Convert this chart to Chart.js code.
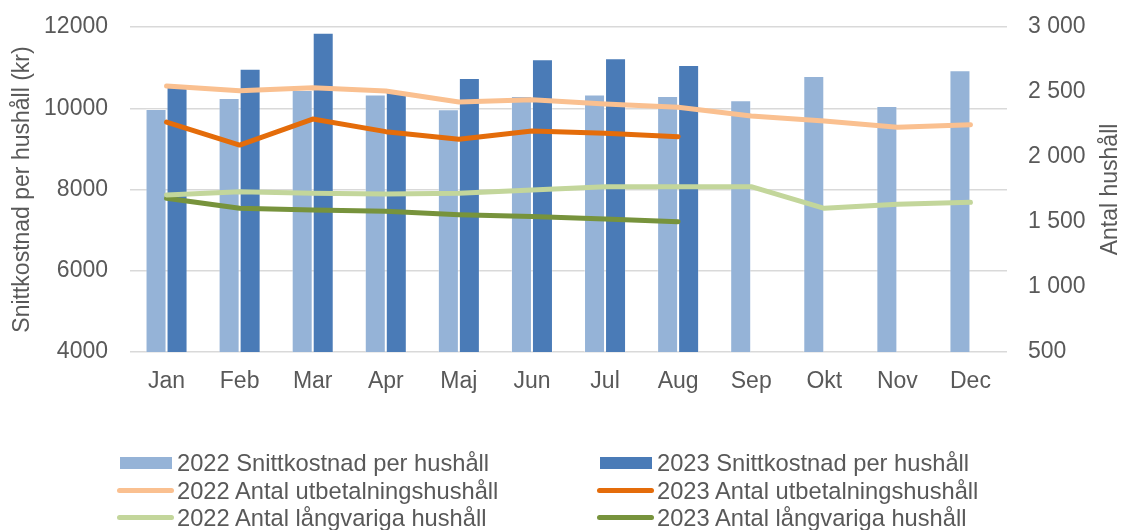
<!DOCTYPE html>
<html>
<head>
<meta charset="utf-8">
<script src="https://cdn.jsdelivr.net/npm/chart.js@4.4.1/dist/chart.umd.min.js"></script>
<style>
  html, body { margin: 0; padding: 0; background: #ffffff; }
  #wrap { position: relative; width: 1121px; height: 530px; }
  #c { position: absolute; left: 0; top: 0; }
  #legend { position: absolute; left: 0; top: 0; width: 1121px; height: 530px; pointer-events: none;
    font-family: "Liberation Sans", Arial, sans-serif; font-size: 23.7px; color: #595959; }
  .item { position: absolute; height: 28px; display: flex; align-items: center; white-space: nowrap; }
  .sw { position: relative; width: 57px; height: 28px; margin-right: 3px; }
  .sw .box { position: absolute; left: 3px; top: 8px; width: 52px; height: 12px; }
  .sw .ln { position: absolute; left: 0; top: 11px; width: 57px; height: 5px; border-radius: 3px; }
</style>
</head>
<body>
<div id="wrap">
  <canvas id="c" width="1121" height="530"></canvas>
  <div id="legend"></div>
</div>
<script>
// ---- data ----
const categories = ['Jan', 'Feb', 'Mar', 'Apr', 'Maj', 'Jun', 'Jul', 'Aug', 'Sep', 'Okt', 'Nov', 'Dec'];

const cost2022 = [9980, 10250, 10450, 10340, 9975, 10300, 10340, 10300, 10200, 10795, 10055, 10935];
const cost2023 = [10600, 10975, 11860, 10425, 10745, 11205, 11230, 11065, null, null, null, null];

const payout2022 = [2546, 2510, 2533, 2508, 2423, 2440, 2408, 2382, 2315, 2277, 2228, 2249];
const payout2023 = [2269, 2092, 2292, 2195, 2136, 2200, 2182, 2156, null, null, null, null];

const longterm2022 = [1708, 1733, 1721, 1715, 1721, 1746, 1772, 1772, 1772, 1605, 1636, 1651];
const longterm2023 = [1682, 1605, 1592, 1582, 1556, 1542, 1523, 1502, null, null, null, null];

const leftTickLabels = ['4000', '6000', '8000', '10000', '12000'];
const rightTickLabels = ['500', '1 000', '1 500', '2 000', '2 500', '3 000'];

const leftAxisTitle = 'Snittkostnad per hushåll (kr)';
const rightAxisTitle = 'Antal hushåll';

const seriesLabels = [
  '2022 Snittkostnad per hushåll',
  '2023 Snittkostnad per hushåll',
  '2022 Antal utbetalningshushåll',
  '2023 Antal utbetalningshushåll',
  '2022 Antal långvariga hushåll',
  '2023 Antal långvariga hushåll'
];

// ---- styles ----
const FONT = '"Liberation Sans", Arial, sans-serif';
const TXT = '#595959';
const C = {
  bar22: '#95B3D7', bar23: '#4A7BB7',
  pay22: '#FAC090', pay23: '#E46C0A',
  lng22: '#C3D69B', lng23: '#77933C'
};

function lineDs(label, data, color) {
  return {
    type: 'line', label, data, yAxisID: 'y1', order: 0,
    borderColor: color, backgroundColor: color, borderWidth: 5,
    pointRadius: 0, pointHoverRadius: 0, tension: 0,
    borderCapStyle: 'round', borderJoinStyle: 'round', spanGaps: false
  };
}

const datasets = [
  { type: 'bar', label: seriesLabels[0], data: cost2022, yAxisID: 'y', order: 1,
    backgroundColor: C.bar22, borderColor: 'rgba(255,255,255,0.35)', borderWidth: 1,
    barPercentage: 1, categoryPercentage: 0.575 },
  { type: 'bar', label: seriesLabels[1], data: cost2023, yAxisID: 'y', order: 1,
    backgroundColor: C.bar23, borderColor: 'rgba(255,255,255,0.25)', borderWidth: 1,
    barPercentage: 1, categoryPercentage: 0.575 },
  lineDs(seriesLabels[2], payout2022, C.pay22),
  lineDs(seriesLabels[3], payout2023, C.pay23),
  lineDs(seriesLabels[4], longterm2022, C.lng22),
  lineDs(seriesLabels[5], longterm2023, C.lng23)
];

// right axis title reads bottom-to-top, like the left one
const rightTitlePlugin = {
  id: 'rightTitle',
  afterDraw(chart) {
    const s = chart.scales.y1;
    const ctx = chart.ctx;
    ctx.save();
    ctx.translate(1111, (s.top + s.bottom) / 2);
    ctx.rotate(-Math.PI / 2);
    ctx.fillStyle = TXT;
    ctx.font = '23px ' + FONT;
    ctx.textAlign = 'center';
    ctx.textBaseline = 'middle';
    ctx.fillText(rightAxisTitle, 0, 0);
    ctx.restore();
  }
};

function fixVertical(width) {
  return (s) => { s.width = width; s.paddingTop = 0; s.paddingBottom = 0; };
}

const chart = new Chart(document.getElementById('c'), {
  data: { labels: categories, datasets },
  plugins: [rightTitlePlugin],
  options: {
    responsive: false,
    animation: false,
    devicePixelRatio: 1,
    layout: { padding: { top: 27, left: 0, right: 0, bottom: 128 } },
    plugins: { legend: { display: false }, tooltip: { enabled: false } },
    scales: {
      x: {
        grid: { display: false, drawTicks: false },
        border: { display: false },
        ticks: { color: TXT, font: { family: FONT, size: 23 }, padding: 16, maxRotation: 0 },
        afterFit: (s) => { s.height = 50; s.paddingLeft = 0; s.paddingRight = 0; }
      },
      y: {
        position: 'left',
        min: 4000, max: 12000,
        ticks: {
          stepSize: 2000, color: TXT, font: { family: FONT, size: 23 }, padding: 22,
          callback: (v) => leftTickLabels[(v - 4000) / 2000]
        },
        grid: { color: '#D9D9D9', lineWidth: 1.5, drawTicks: false },
        border: { display: false },
        title: {
          display: true, text: leftAxisTitle, color: TXT,
          font: { family: FONT, size: 23, lineHeight: 1 }, padding: { top: 11, bottom: 0 }
        },
        afterFit: fixVertical(130)
      },
      y1: {
        position: 'right',
        min: 500, max: 3000,
        ticks: {
          stepSize: 500, color: TXT, font: { family: FONT, size: 23 }, padding: 21,
          callback: (v) => rightTickLabels[(v - 500) / 500]
        },
        grid: { display: false, drawTicks: false },
        border: { display: false },
        title: { display: false },
        afterFit: fixVertical(114)
      }
    }
  }
});

// ---- legend (two columns, three rows) built from the chart datasets ----
const legend = document.getElementById('legend');
const colX = [117, 597];
const rowY = [449, 477, 504];
chart.data.datasets.forEach((ds, i) => {
  const col = i % 2, row = Math.floor(i / 2);
  const item = document.createElement('div');
  item.className = 'item';
  item.style.left = colX[col] + 'px';
  item.style.top = rowY[row] + 'px';
  const sw = document.createElement('div');
  sw.className = 'sw';
  const mark = document.createElement('div');
  mark.className = ds.type === 'bar' ? 'box' : 'ln';
  mark.style.background = ds.backgroundColor;
  sw.appendChild(mark);
  const txt = document.createElement('span');
  txt.textContent = ds.label;
  item.appendChild(sw);
  item.appendChild(txt);
  legend.appendChild(item);
});
</script>
</body>
</html>
